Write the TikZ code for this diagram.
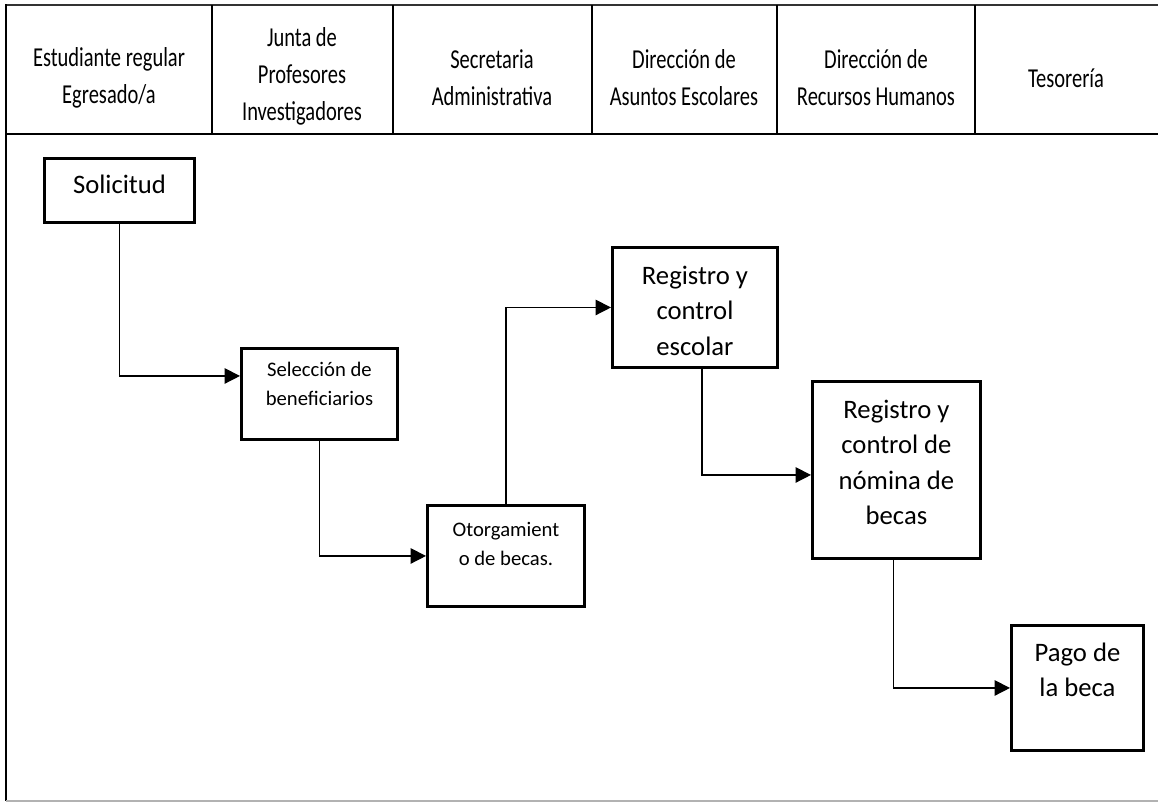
\documentclass[tikz,border=0pt]{standalone}
\usepackage{fontspec}
\setmainfont{Carlito}
\newfontfamily\cabecera{Carlito}[FakeStretch=0.75]
\usepackage{tikz}
\usetikzlibrary{arrows.meta,positioning,calc}
\newcommand{\grande}{\fontsize{20}{26.5}\selectfont}
\newcommand{\chica}{\fontsize{15.5}{21.5}\selectfont}
% ancho, alto, primera linea (en px), texto
\newcommand{\cajatexto}[4]{\parbox[c][\dimexpr #2pt*3/4\relax][t]{\dimexpr #1pt*3/4\relax}{\centering\rule{0pt}{\dimexpr #3pt*3/4\relax}#4}}
\tikzstyle{caja} = [draw,line width=2.2pt,inner sep=0pt,anchor=north west]
\tikzstyle{flecha} = [line width=1.1pt,-{Triangle[length=11.5pt,width=11.5pt]}]
\tikzstyle{titulo} = [align=center,font=\cabecera\fontsize{20.5}{27.75}\selectfont]
\tikzset{>=latex}

\begin{document}
\begin{tikzpicture}[x=0.75pt,y=-0.75pt]
    \useasboundingbox (0,0) rectangle (1158,803);
    \fill[white] (0,0) rectangle (1158,803);
    % encabezado
    \draw[line width=2.2pt,black!80] (6,5) -- (1158,5);
    \draw[line width=1.6pt] (6,134) -- (1158,134);
    \draw[line width=1.6pt] (6,4) -- (6,801);
    \draw[line width=0.8pt,black!30] (6,801) -- (1158,801);
    \foreach \x in {212,393,592,777,975}
      \draw[line width=1.4pt] (\x,5) -- (\x,134);
    \node [titulo] (est) at (109,78) {Estudiante regular\\Egresado/a};
    \node [titulo] (jun) at (302,76) {Junta de\\Profesores\\Investigadores};
    \node [titulo] (sec) at (492,78) {Secretaria\\Administrativa};
    \node [titulo] (dae) at (684,78) {Dirección de\\Asuntos Escolares};
    \node [titulo] (drh) at (876,78) {Dirección de\\Recursos Humanos};
    \node [titulo] (tes) at (1066,78) {Tesorería};
    % cajas
    \node [caja,font=\grande] (sol) at (43,157) {\cajatexto{150}{64}{35}{Solicitud}};
    \node [caja,font=\chica] (sel) at (240,347) {\cajatexto{156}{91}{28}{Selección de\\beneficiarios}};
    \node [caja,font=\chica] (oto) at (426,504) {\cajatexto{157}{101}{31}{Otorgamient\\o de becas.}};
    \node [caja,font=\grande] (esc) at (611,246) {\cajatexto{165}{120}{37}{Registro y\\control\\escolar}};
    \node [caja,font=\grande] (nom) at (811,380) {\cajatexto{168}{177}{37}{Registro y\\control de\\nómina de\\becas}};
    \node [caja,font=\grande] (pag) at (1010,624) {\cajatexto{132}{125}{36}{Pago de\\la beca}};
    % flechas
    \draw [flecha] (sol.south) |- ($(sel.west)+(0,-18)$);
    \draw [flecha] (sel.south) |- (oto.west);
    \draw [flecha] (oto.north) |- (esc.west);
    \draw [flecha] ($(esc.south)+(7,0)$) |- ($(nom.west)+(0,5)$);
    \draw [flecha] ($(nom.south)+(-3,0)$) |- (pag.west);
  \end{tikzpicture}
\end{document}
